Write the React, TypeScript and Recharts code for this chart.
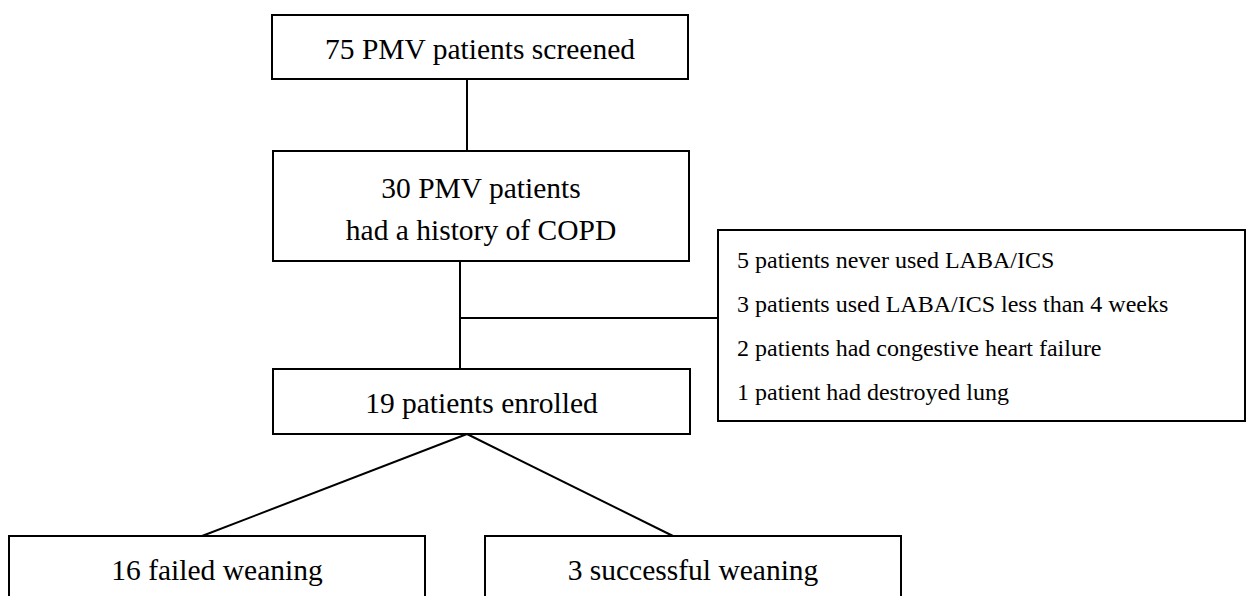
import { ComposedChart, XAxis, YAxis, ReferenceArea, ReferenceLine, Scatter } from "recharts"

// flow chart content
const flowSteps = [
  ["75 PMV patients screened"],
  ["30 PMV patients", "had a history of COPD"],
  ["19 patients enrolled"],
  ["16 failed weaning"],
  ["3 successful weaning"],
]

const exclusionReasons = [
  "5 patients never used LABA/ICS",
  "3 patients used LABA/ICS less than 4 weeks",
  "2 patients had congestive heart failure",
  "1 patient had destroyed lung",
]

// layout in chart units (1 unit = 1px)
const W = 1249
const H = 596

const stepBoxes = [
  { x1: 272, x2: 688, y1: 15, y2: 79, cy: 49 },
  { x1: 273, x2: 689, y1: 151, y2: 261, cy: 209 },
  { x1: 273, x2: 690, y1: 369, y2: 434, cy: 403 },
  { x1: 9, x2: 425, y1: 536, y2: 640, cy: 570 },
  { x1: 485, x2: 901, y1: 536, y2: 640, cy: 570 },
]

const exclusionBox = { x1: 718, x2: 1245, y1: 230, y2: 421, textX: 737, firstY: 259.5, step: 44 }

const connectors = [
  [{ x: 467, y: 79 }, { x: 467, y: 151 }],
  [{ x: 460, y: 261 }, { x: 460, y: 369 }],
  [{ x: 460, y: 318 }, { x: 718, y: 318 }],
  [{ x: 467, y: 434 }, { x: 202, y: 536 }],
  [{ x: 467, y: 434 }, { x: 673, y: 536 }],
]

const FONT = "Liberation Serif"
const MAIN_FONT = 29.5
const SIDE_FONT = 24
const LINE_GAP = 42

type TextPoint = { x: number; y: number; text: string; anchor: string; size: number }

const textPoints: TextPoint[] = []
flowSteps.forEach((lines, i) => {
  const b = stepBoxes[i]
  const cx = (b.x1 + b.x2) / 2
  lines.forEach((t, j) => {
    const y = b.cy + (j - (lines.length - 1) / 2) * LINE_GAP
    textPoints.push({ x: cx, y, text: t, anchor: "middle", size: MAIN_FONT })
  })
})
exclusionReasons.forEach((t, i) => {
  textPoints.push({
    x: exclusionBox.textX,
    y: exclusionBox.firstY + i * exclusionBox.step,
    text: t,
    anchor: "start",
    size: SIDE_FONT,
  })
})

const LabelShape = (props: any) => {
  const p = props.payload as TextPoint
  return (
    <text
      x={props.cx}
      y={props.cy}
      textAnchor={p.anchor as any}
      dominantBaseline="central"
      fontFamily={FONT}
      fontSize={p.size}
      fill="#000"
    >
      {p.text}
    </text>
  )
}

export default function App() {
  return (
    <div style={{ position: "absolute", left: 0, top: 0, background: "#fff" }}>
      <ComposedChart width={W} height={H} margin={{ top: 0, right: 0, bottom: 0, left: 0 }}>
        <XAxis type="number" dataKey="x" domain={[0, W]} hide allowDataOverflow />
        <YAxis type="number" dataKey="y" domain={[0, H]} reversed hide allowDataOverflow />
        {stepBoxes.map((b, i) => (
          <ReferenceArea
            key={`box-${i}`}
            x1={b.x1}
            x2={b.x2}
            y1={b.y1}
            y2={b.y2}
            fill="#fff"
            fillOpacity={1}
            stroke="#000"
            strokeWidth={2}
            ifOverflow="hidden"
          />
        ))}
        <ReferenceArea
          x1={exclusionBox.x1}
          x2={exclusionBox.x2}
          y1={exclusionBox.y1}
          y2={exclusionBox.y2}
          fill="#fff"
          fillOpacity={1}
          stroke="#000"
          strokeWidth={2}
          ifOverflow="hidden"
        />
        {connectors.map((seg, i) => (
          <ReferenceLine key={`seg-${i}`} segment={seg} stroke="#000" strokeWidth={2} ifOverflow="visible" />
        ))}
        <Scatter data={textPoints} shape={LabelShape} isAnimationActive={false} />
      </ComposedChart>
    </div>
  )
}
